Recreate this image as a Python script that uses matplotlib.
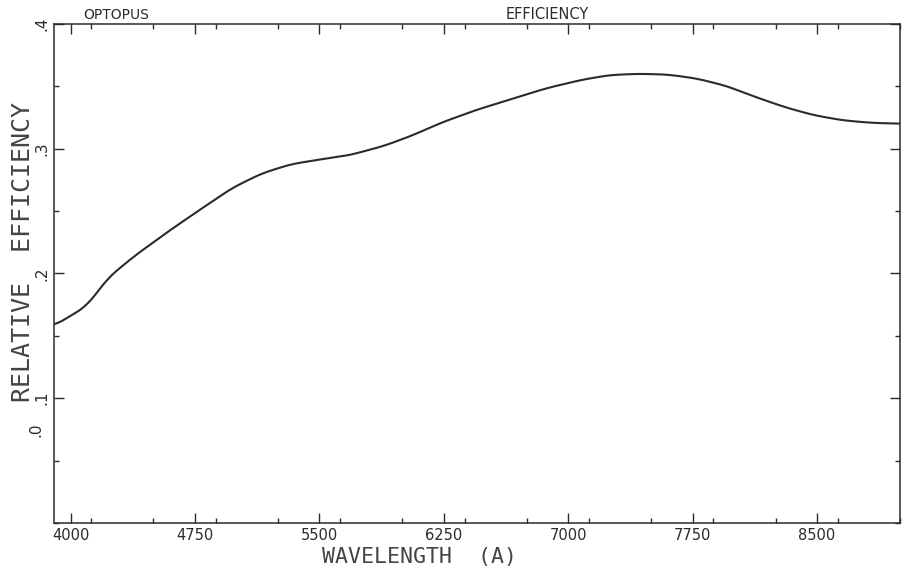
import numpy as np
import matplotlib
matplotlib.use("Agg")
import matplotlib.pyplot as plt
from matplotlib.ticker import MultipleLocator, FixedLocator

# values
wavelength = [3900, 4100, 4222, 4380, 4590, 4765, 4975, 5150, 5325, 5482,
              5675, 5885, 6060, 6235, 6445, 6655, 6865, 7075, 7250, 7425,
              7600, 7775, 7950, 8125, 8300, 8475, 8650, 8825, 9000]
efficiency = [0.158, 0.174, 0.196, 0.2134, 0.2337, 0.2497, 0.2685, 0.280,
              0.2874, 0.2909, 0.2946, 0.302, 0.3106, 0.3208, 0.331, 0.3396,
              0.3483, 0.355, 0.359, 0.360, 0.3594, 0.3562, 0.3504, 0.3416,
              0.3335, 0.327, 0.3228, 0.3207, 0.320]

x_ticks = [4000, 4750, 5500, 6250, 7000, 7750, 8500]
x_labels = ["4000", "4750", "5500", "6250", "7000", "7750", "8500"]
y_ticks = [0.1, 0.2, 0.3, 0.4]
y_labels = [".1", ".2", ".3", ".4"]

ink = "#2b2b2b"

fig = plt.figure(figsize=(9.1, 5.69), dpi=100)
ax = fig.add_axes([0.0593, 0.081, 0.9297, 0.877])

# smooth the read points a little so the pen trace looks continuous
xs = np.linspace(wavelength[0], wavelength[-1], 600)
ys = np.interp(xs, wavelength, efficiency)
k = np.ones(15) / 15
ys_s = np.convolve(np.pad(ys, 7, mode="edge"), k, mode="valid")
ax.plot(xs, ys_s, color=ink, lw=1.5)

ax.set_xlim(3900, 9000)
ax.set_ylim(0.0, 0.4)

ax.xaxis.set_major_locator(FixedLocator(x_ticks))
ax.set_xticklabels(x_labels)
ax.xaxis.set_minor_locator(MultipleLocator(375))
ax.yaxis.set_major_locator(FixedLocator(y_ticks))
ax.set_yticklabels(y_labels, rotation=90, va="center")
ax.yaxis.set_minor_locator(MultipleLocator(0.05))

ax.tick_params(which="both", direction="in", top=True, right=True,
               color=ink, width=1.0)
ax.tick_params(which="major", length=7)
ax.tick_params(which="minor", length=3.5)
ax.tick_params(axis="x", which="major", labelsize=10.5, pad=4, labelcolor=ink)
ax.tick_params(axis="y", which="major", labelsize=11, pad=3, labelcolor=ink)

for s in ax.spines.values():
    s.set_color(ink)
    s.set_linewidth(1.1)

# the plotter put the ".0" label out of place, keep it that way
ax.text(-0.012, 0.075, ".0", transform=ax.get_yaxis_transform(),
        rotation=90, ha="right", va="center", fontsize=11, color=ink)

fig.text(0.4615, 0.021, "WAVELENGTH  (A)", family="DejaVu Sans Mono",
         fontsize=15.5, color="#444444", ha="center", va="center")
fig.text(0.025, 0.557, "RELATIVE  EFFICIENCY", family="DejaVu Sans Mono",
         fontsize=18, color="#444444", ha="center", va="center", rotation=90)

fig.text(0.128, 0.974, "OPTOPUS", fontsize=10, color=ink, ha="center",
         va="center", fontweight="medium")
fig.text(0.601, 0.974, "EFFICIENCY", fontsize=10.5, color=ink, ha="center",
         va="center")

fig.savefig("out.png", dpi=100)
